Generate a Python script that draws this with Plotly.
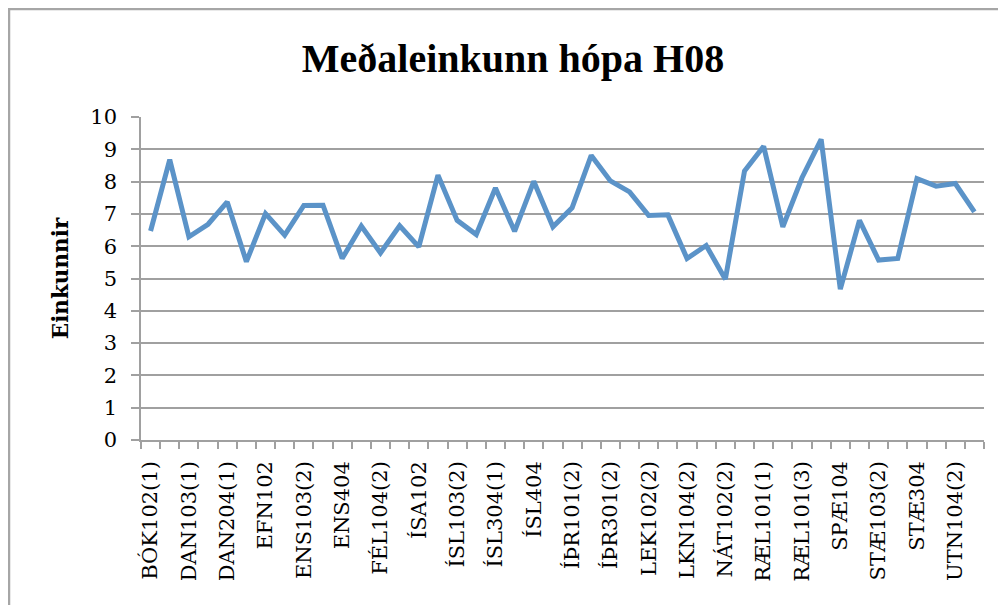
import plotly.graph_objects as go

categories = [
    "BÓK102(1)", "BÓK102(2)", "DAN103(1)", "DAN103(2)", "DAN204(1)", "DAN204(2)",
    "EFN102", "ENS103(1)", "ENS103(2)", "ENS203", "ENS404", "FÉL104(1)",
    "FÉL104(2)", "FÉL303", "ÍSA102", "ÍSL103(1)", "ÍSL103(2)", "ÍSL203",
    "ÍSL304(1)", "ÍSL304(2)", "ÍSL404", "ÍÞR101(1)", "ÍÞR101(2)", "ÍÞR301(1)",
    "ÍÞR301(2)", "LEK102(1)", "LEK102(2)", "LKN104(1)", "LKN104(2)", "NÁT102(1)",
    "NÁT102(2)", "NÁT103", "RÆL101(1)", "RÆL101(2)", "RÆL101(3)", "SAG103",
    "SPÆ104", "STÆ103(1)", "STÆ103(2)", "STÆ203", "STÆ304", "UTN104(1)",
    "UTN104(2)", "ÞÝS103",
]
values = [
    6.47, 8.68, 6.29, 6.68, 7.37, 5.52, 7.01, 6.34, 7.26, 7.27,
    5.62, 6.62, 5.79, 6.63, 5.98, 8.20, 6.80, 6.36, 7.80, 6.46,
    8.01, 6.60, 7.19, 8.81, 8.02, 7.68, 6.95, 6.97, 5.62, 6.02,
    4.98, 8.33, 9.09, 6.60, 8.12, 9.31, 4.67, 6.80, 5.57, 5.62,
    8.09, 7.86, 7.94, 7.06,
]
y_ticks = list(range(0, 11))

x_idx = list(range(len(categories)))
shown_vals = x_idx[::2]
shown_text = categories[::2]

SERIF = "DejaVu Serif"
TITLE_FONT = "Liberation Serif"
GRID = "#a0a0a0"

fig = go.Figure()
fig.add_trace(go.Scatter(
    x=x_idx, y=values, mode="lines",
    line=dict(color="#5b93c8", width=5),
    hoverinfo="skip",
))

# page body has an 8px margin, so the figure is 8px smaller than the window
W, H = 998, 597
L, R, T, B = 133, 22, 109, 165
pw, ph = W - L - R, H - T - B

fig.update_layout(
    width=W, height=H,
    margin=dict(l=L, r=R, t=T, b=B),
    paper_bgcolor="white", plot_bgcolor="white",
    showlegend=False,
    title=dict(text="<b>Meðaleinkunn hópa H08</b>", x=505 / W, xanchor="center",
               y=1 - 50 / H, yanchor="middle",
               font=dict(family=TITLE_FONT, size=40, color="black")),
    font=dict(family=SERIF, color="black"),
    xaxis=dict(
        range=[-0.5, len(categories) - 0.5],
        tickmode="array", tickvals=shown_vals, ticktext=shown_text,
        tickangle=-90, tickfont=dict(family=SERIF, size=21, color="black"),
        ticks="", showgrid=False, zeroline=False,
        showline=True, linecolor=GRID, linewidth=1.5,
        ticklabelstandoff=11,
        minor=dict(tickmode="array", tickvals=[i - 0.5 for i in range(len(categories) + 1)],
                   ticks="outside", ticklen=7, tickcolor=GRID, tickwidth=1.5, showgrid=False),
    ),
    yaxis=dict(
        range=[0, 10], tickmode="array", tickvals=y_ticks,
        tickfont=dict(family=SERIF, size=21, color="black"),
        ticks="outside", ticklen=8, tickcolor=GRID, tickwidth=1.5,
        showgrid=True, gridcolor=GRID, gridwidth=1.5, zeroline=False,
        showline=True, linecolor=GRID, linewidth=1.5,
        ticklabelstandoff=10,
        title=dict(text="<b>Einkunnir</b>", font=dict(family=SERIF, size=21.5, color="black"),
                   standoff=16),
    ),
)

# chart-area border (left and top visible, rest outside the image)
fig.add_shape(type="rect", xref="paper", yref="paper",
              x0=(1 - L) / pw, x1=(W + 20 - L) / pw,
              y0=-(B + 20) / ph, y1=(H - B - 1) / ph,
              line=dict(color="#a6a6a6", width=2.5), layer="below")

fig.write_html("out.html")
